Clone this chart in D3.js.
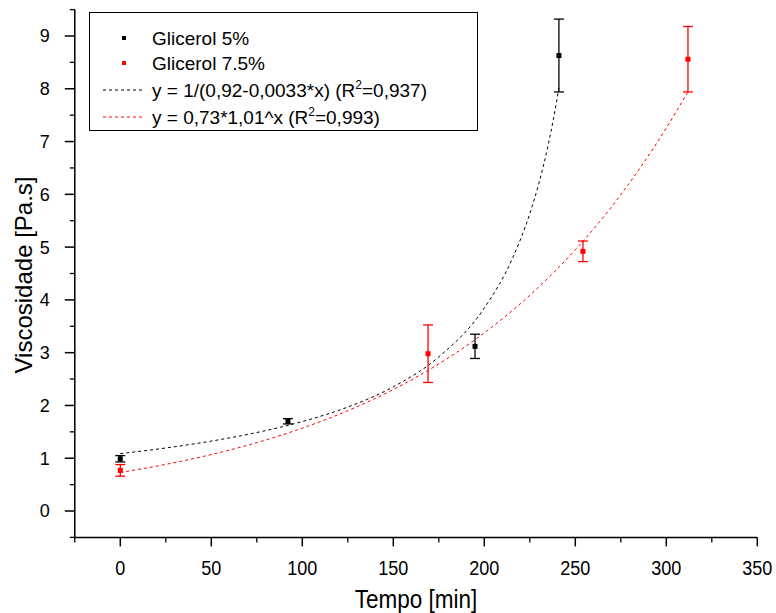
<!DOCTYPE html>
<html>
<head>
<meta charset="utf-8">
<script src="https://cdn.jsdelivr.net/npm/d3@7"></script>
<style>
  body { margin: 0; background: #fff; }
  svg { display: block; font-family: "Liberation Sans", Arial, sans-serif; }
</style>
</head>
<body>
<svg id="chart" width="776" height="613"></svg>
<script>
// measured points (time in min, viscosity in Pa.s, error bar half-height)
var gli5Time = [0, 92.1, 194.9, 241.0];
var gli5Visc = [0.99, 1.70, 3.12, 8.63];
var gli5Err  = [0.06, 0.05, 0.23, 0.69];

var gli75Time = [0, 169.1, 254.2, 311.9];
var gli75Visc = [0.77, 2.98, 4.92, 8.56];
var gli75Err  = [0.11, 0.545, 0.195, 0.62];

// fitted curves
var fit5Time = [0, 25, 50, 75, 100, 125, 150, 175, 200, 215, 225, 230, 235, 238, 241];
var fit5Visc = [1.087, 1.194, 1.325, 1.487, 1.695, 1.970, 2.353, 2.920, 3.846, 4.751, 5.634, 6.21, 6.92, 7.43, 8.02];

var fit75Time = [0, 25, 50, 75, 100, 125, 150, 175, 200, 225, 250, 275, 300, 312];
var fit75Visc = [0.73, 0.884, 1.070, 1.296, 1.570, 1.901, 2.302, 2.787, 3.375, 4.087, 4.949, 5.993, 7.256, 7.95];

var xTicks = [0, 50, 100, 150, 200, 250, 300, 350];
var yTicks = [0, 1, 2, 3, 4, 5, 6, 7, 8, 9];

var legendLabels = ["Glicerol 5%", "Glicerol 7.5%"];

var svg = d3.select("#chart");

var x = d3.scaleLinear().domain([-25, 350]).range([74.8, 757.3]);
var y = d3.scaleLinear().domain([-0.5, 9.5]).range([537.4, 9.6]);

// x axis
var xAxis = svg.append("g").attr("transform", "translate(0," + y(-0.5) + ")");
xAxis.append("line")
  .attr("x1", x(-25)).attr("x2", x(350))
  .attr("stroke", "#000").attr("stroke-width", 1.5);
xAxis.selectAll(".minor").data(d3.range(-25, 351, 50)).enter().append("line")
  .attr("x1", function(d){ return x(d); }).attr("x2", function(d){ return x(d); })
  .attr("y1", 0).attr("y2", 5).attr("stroke", "#000").attr("stroke-width", 1.3);
xAxis.selectAll(".major").data(xTicks).enter().append("line")
  .attr("x1", function(d){ return x(d); }).attr("x2", function(d){ return x(d); })
  .attr("y1", 0).attr("y2", 9).attr("stroke", "#000").attr("stroke-width", 1.5);
// Origin squeezes the x labels a bit
xAxis.selectAll("text").data(xTicks).enter().append("text")
  .attr("transform", function(d){ return "translate(" + x(d) + ",38) scale(0.86,1)"; })
  .attr("text-anchor", "middle").attr("font-size", 21).attr("fill", "#000")
  .text(function(d){ return d; });

// y axis
var yAxis = svg.append("g").attr("transform", "translate(" + x(-25) + ",0)");
yAxis.append("line")
  .attr("y1", y(-0.5)).attr("y2", y(9.5))
  .attr("stroke", "#000").attr("stroke-width", 1.5);
yAxis.selectAll(".minor").data(d3.range(-0.5, 9.6, 1)).enter().append("line")
  .attr("y1", function(d){ return y(d); }).attr("y2", function(d){ return y(d); })
  .attr("x1", 0).attr("x2", -5).attr("stroke", "#000").attr("stroke-width", 1.3);
yAxis.selectAll(".major").data(yTicks).enter().append("line")
  .attr("y1", function(d){ return y(d); }).attr("y2", function(d){ return y(d); })
  .attr("x1", 0).attr("x2", -10).attr("stroke", "#000").attr("stroke-width", 1.5);
yAxis.selectAll("text").data(yTicks).enter().append("text")
  .attr("x", -25).attr("y", function(d){ return y(d); }).attr("dy", "0.36em")
  .attr("text-anchor", "end").attr("font-size", 18).attr("fill", "#000")
  .text(function(d){ return d; });

svg.append("text")
  .attr("transform", "translate(416,608) scale(0.9,1)")
  .attr("text-anchor", "middle").attr("font-size", 25)
  .text("Tempo [min]");
svg.append("text")
  .attr("transform", "translate(32,275) rotate(-90)")
  .attr("text-anchor", "middle").attr("font-size", 24)
  .text("Viscosidade [Pa.s]");

// fitted dashed curves
var line = d3.line()
  .x(function(d){ return x(d[0]); })
  .y(function(d){ return y(d[1]); })
  .curve(d3.curveMonotoneX);

svg.append("path")
  .datum(d3.zip(fit5Time, fit5Visc))
  .attr("d", line).attr("fill", "none")
  .attr("stroke", "#000").attr("stroke-width", 1).attr("stroke-dasharray", "3,3");
svg.append("path")
  .datum(d3.zip(fit75Time, fit75Visc))
  .attr("d", line).attr("fill", "none")
  .attr("stroke", "#ff0000").attr("stroke-width", 1).attr("stroke-dasharray", "3,3");

// error bars + points
function drawSeries(times, vals, errs, color) {
  var g = svg.append("g");
  var data = d3.zip(times, vals, errs);
  var bars = g.selectAll("g").data(data).enter().append("g");
  bars.append("line")
    .attr("x1", function(d){ return x(d[0]); }).attr("x2", function(d){ return x(d[0]); })
    .attr("y1", function(d){ return y(d[1] + d[2]); }).attr("y2", function(d){ return y(d[1] - d[2]); })
    .attr("stroke", color).attr("stroke-width", 1.3);
  [1, -1].forEach(function(s){
    bars.append("line")
      .attr("x1", function(d){ return x(d[0]) - 5; }).attr("x2", function(d){ return x(d[0]) + 5; })
      .attr("y1", function(d){ return y(d[1] + s * d[2]); }).attr("y2", function(d){ return y(d[1] + s * d[2]); })
      .attr("stroke", color).attr("stroke-width", 1.3);
  });
  bars.append("rect")
    .attr("x", function(d){ return x(d[0]) - 2.5; }).attr("y", function(d){ return y(d[1]) - 2.5; })
    .attr("width", 5).attr("height", 5).attr("fill", color);
}
drawSeries(gli5Time, gli5Visc, gli5Err, "#000");
drawSeries(gli75Time, gli75Visc, gli75Err, "#ff0000");

// legend
var leg = svg.append("g");
leg.append("rect")
  .attr("x", 89.5).attr("y", 12.5).attr("width", 388).attr("height", 118)
  .attr("fill", "#fff").attr("stroke", "#000").attr("stroke-width", 1);

var legY = [38, 63, 90, 117];
leg.append("rect").attr("x", 122).attr("y", legY[0] - 2).attr("width", 4).attr("height", 4).attr("fill", "#000");
leg.append("rect").attr("x", 122).attr("y", legY[1] - 2).attr("width", 4).attr("height", 4).attr("fill", "#ff0000");
leg.append("line").attr("x1", 103).attr("x2", 143).attr("y1", legY[2]).attr("y2", legY[2])
  .attr("stroke", "#000").attr("stroke-dasharray", "3,3");
leg.append("line").attr("x1", 103).attr("x2", 143).attr("y1", legY[3]).attr("y2", legY[3])
  .attr("stroke", "#ff0000").attr("stroke-dasharray", "3,3");

leg.selectAll(".lab").data(legendLabels).enter().append("text")
  .attr("x", 152).attr("y", function(d, i){ return legY[i]; }).attr("dy", "0.36em")
  .attr("font-size", 19).text(function(d){ return d; });

function fitLabel(yy, before, after) {
  var t = leg.append("text").attr("x", 152).attr("y", yy).attr("dy", "0.36em").attr("font-size", 19);
  t.append("tspan").text(before);
  t.append("tspan").attr("font-size", 12).attr("dy", "-0.65em").text("2");
  t.append("tspan").attr("dy", "0.41em").text(after);
}
fitLabel(legY[2], "y = 1/(0,92-0,0033*x) (R", "=0,937)");
fitLabel(legY[3], "y = 0,73*1,01^x (R", "=0,993)");
</script>
</body>
</html>
